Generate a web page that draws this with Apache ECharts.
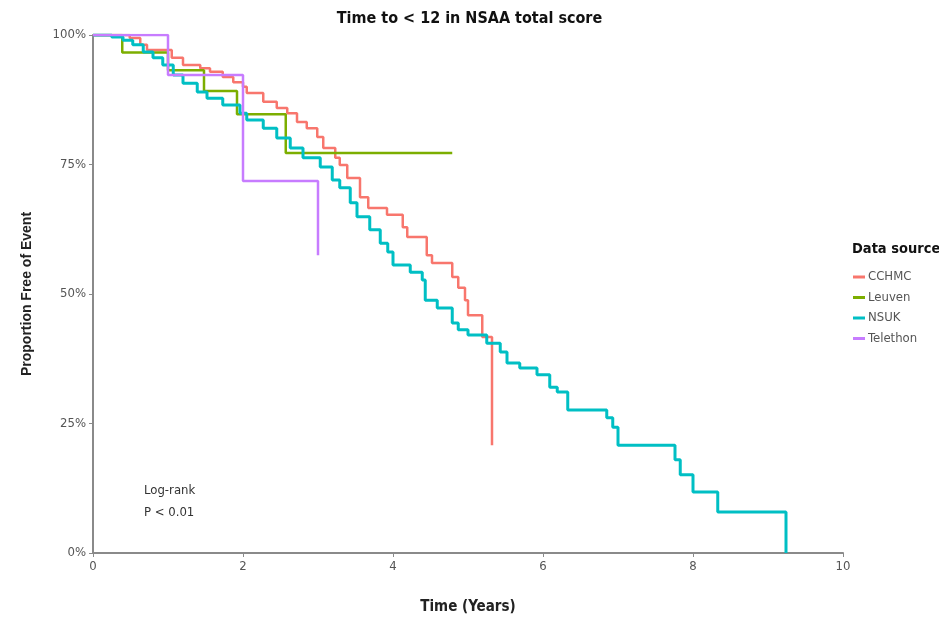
<!DOCTYPE html>
<html><head><meta charset="utf-8">
<script src="https://cdn.jsdelivr.net/npm/echarts@6/dist/echarts.min.js"></script>
<style>html,body{margin:0;padding:0;background:#fff}#c{width:939px;height:625px}</style>
</head><body><div id="c"></div>
<script>
const seriesNames = ['CCHMC','Leuven','NSUK','Telethon'];
const colors = ['#F8766D','#7CAE00','#00BFC4','#C77CFF'];
const xTicks = [0,2,4,6,8,10];
const yTicks = [0,25,50,75,100];
const cchmc = [[0,100],[0.49,99.4],[0.63,98.1],[0.72,97.1],[1.05,95.6],[1.20,94.2],[1.43,93.6],[1.56,92.9],[1.73,91.9],[1.87,90.9],[2.0,90.0],[2.05,88.8],[2.27,87.1],[2.45,85.9],[2.59,84.9],[2.72,83.2],[2.85,82.0],[2.99,80.3],[3.07,78.2],[3.23,76.3],[3.29,74.9],[3.39,72.4],[3.56,68.7],[3.67,66.6],[3.92,65.3],[4.13,62.9],[4.19,61.0],[4.45,57.5],[4.52,56.0],[4.79,53.3],[4.87,51.2],[4.96,48.8],[5.0,45.9],[5.19,41.7],[5.32,20.8]];
const leuven = [[0,100],[0.39,96.6],[1.0,93.2],[1.48,89.2],[1.92,84.7],[2.57,77.2],[4.79,77.2]];
const nsuk = [[0,100],[0.25,99.6],[0.40,99.0],[0.53,98.1],[0.67,96.7],[0.80,95.6],[0.93,94.2],[1.07,92.3],[1.20,90.7],[1.39,89.0],[1.52,87.8],[1.73,86.5],[1.96,84.9],[2.05,83.6],[2.27,82.0],[2.45,80.1],[2.63,78.2],[2.80,76.3],[3.03,74.5],[3.19,72.0],[3.29,70.5],[3.43,67.6],[3.52,64.9],[3.69,62.4],[3.83,59.8],[3.93,58.1],[4.0,55.6],[4.23,54.2],[4.39,52.7],[4.43,48.8],[4.59,47.3],[4.79,44.4],[4.87,43.1],[5.0,42.1],[5.25,40.5],[5.43,38.8],[5.52,36.7],[5.69,35.7],[5.92,34.4],[6.09,32.0],[6.19,31.1],[6.33,27.6],[6.85,26.1],[6.93,24.3],[7.0,20.8],[7.76,18.0],[7.83,15.1],[8.0,11.8],[8.33,7.9],[9.24,0]];
const telethon = [[0,100],[1.0,92.3],[2.0,71.8],[3.0,57.5]];
const allData = [cchmc, leuven, nsuk, telethon];

const narrow = '"Liberation Sans Narrow", "DejaVu Sans Condensed", "Liberation Sans", Arial, sans-serif';
const chart = echarts.init(document.getElementById('c'));
chart.setOption({
  backgroundColor: '#fff',
  animation: false,
  title: {
    text: 'Time to < 12 in NSAA total score',
    left: 'center', top: 6,
    textStyle: {fontFamily: narrow, fontWeight: 'bold', fontSize: 16, color: '#111'}
  },
  grid: {left: 93, right: 96, top: 35, bottom: 72},
  xAxis: {
    type: 'value', min: 0, max: 10, interval: 2,
    name: 'Time (Years)', nameLocation: 'middle', nameGap: 47,
    nameTextStyle: {fontFamily: narrow, fontWeight: 'bold', fontSize: 15, color: '#222'},
    axisLine: {lineStyle: {color: '#8a8a8a', width: 2}},
    axisTick: {lineStyle: {color: '#8a8a8a'}, length: 4},
    axisLabel: {fontFamily: narrow, fontSize: 13, color: '#555', margin: 7,
      formatter: v => xTicks.includes(v) ? String(v) : ''},
    splitLine: {show: false}
  },
  yAxis: {
    type: 'value', min: 0, max: 100, interval: 25,
    name: 'Proportion Free of Event', nameLocation: 'middle', nameGap: 59, nameRotate: 90,
    nameTextStyle: {fontFamily: 'Arial, "Liberation Sans", sans-serif', fontWeight: 'bold', fontSize: 14, color: '#222'},
    axisLine: {show: true, lineStyle: {color: '#8a8a8a', width: 2}},
    axisTick: {show: true, lineStyle: {color: '#8a8a8a'}, length: 4},
    axisLabel: {fontFamily: narrow, fontSize: 13, color: '#555', margin: 7,
      formatter: v => yTicks.includes(v) ? v + '%' : ''},
    splitLine: {show: false}
  },
  legend: {
    orient: 'vertical', left: 848, top: 264,
    itemWidth: 12, itemHeight: 3, itemGap: 4.5, icon: 'rect',
    textStyle: {fontFamily: narrow, fontSize: 13, lineHeight: 16, color: '#555', padding: [0,0,0,-2]},
    data: seriesNames
  },
  graphic: [
    {type: 'text', left: 852, top: 242, style: {text: 'Data source', fontFamily: narrow, fontWeight: 'bold', fontSize: 14.5, fill: '#111'}},
    {type: 'text', left: 144, top: 484, style: {text: 'Log-rank', fontFamily: narrow, fontSize: 13, fill: '#333'}},
    {type: 'text', left: 144, top: 506, style: {text: 'P < 0.01', fontFamily: narrow, fontSize: 13, fill: '#333'}}
  ],
  series: seriesNames.map((n, i) => ({
    name: n, type: 'line', step: 'end', data: allData[i],
    showSymbol: false, symbol: 'none',
    lineStyle: {color: colors[i], width: i === 2 ? 3 : 2.5},
    itemStyle: {color: colors[i]}
  }))
});
</script></body></html>
